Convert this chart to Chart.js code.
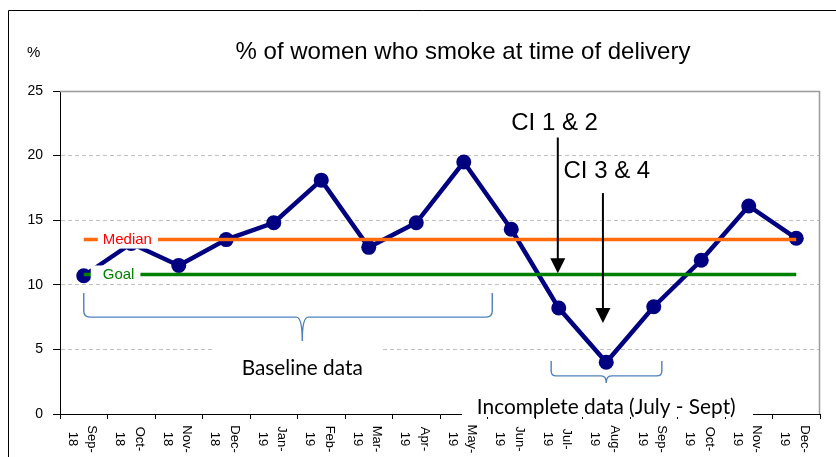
<!DOCTYPE html>
<html><head><meta charset="utf-8">
<script src="https://cdn.jsdelivr.net/npm/chart.js@4"></script>
<style>html,body{margin:0;padding:0;background:#fff}canvas{display:block}</style>
</head><body>
<canvas id="c" width="836" height="457"></canvas>
<script>
const categories = ['Sep-18','Oct-18','Nov-18','Dec-18','Jan-19','Feb-19','Mar-19','Apr-19','May-19','Jun-19','Jul-19','Aug-19','Sep-19','Oct-19','Nov-19','Dec-19'];
const smokingPct = [10.7, 13.2, 11.5, 13.5, 14.8, 18.1, 12.9, 14.8, 19.5, 14.3, 8.2, 4.0, 8.3, 11.9, 16.1, 13.6];
const medianValues = [13.5, 13.5, 13.5, 13.5, 13.5, 13.5, 13.5, 13.5, 13.5, 13.5, 13.5, 13.5, 13.5, 13.5, 13.5, 13.5];
const goalValues = [10.8, 10.8, 10.8, 10.8, 10.8, 10.8, 10.8, 10.8, 10.8, 10.8, 10.8, 10.8, 10.8, 10.8, 10.8, 10.8];
const yTicks = [0, 5, 10, 15, 20, 25];
const titleText = '% of women who smoke at time of delivery';
const yUnit = '%';
const medianLabel = 'Median';
const goalLabel = 'Goal';
const ci12Text = 'CI 1 & 2';
const ci34Text = 'CI 3 & 4';
const baselineText = 'Baseline data';
const incompleteText = 'Incomplete data (July - Sept)';

const SANS = '"Liberation Sans", Arial, sans-serif';
const CAL = 'Lato, "Open Sans", sans-serif';

function fitFont(ctx, text, family, targetW, base) {
  ctx.font = base + 'px ' + family;
  const w = ctx.measureText(text).width;
  const size = base * targetW / w;
  return size.toFixed(2) + 'px ' + family;
}

function brace(ctx, x1, x2, xm, yTop, yMid, yTip, r) {
  ctx.beginPath();
  ctx.moveTo(x1, yTop);
  ctx.lineTo(x1, yMid - r);
  ctx.quadraticCurveTo(x1, yMid, x1 + r, yMid);
  ctx.lineTo(xm - r, yMid);
  ctx.quadraticCurveTo(xm, yMid, xm, yTip);
  ctx.moveTo(xm, yTip);
  ctx.quadraticCurveTo(xm, yMid, xm + r, yMid);
  ctx.lineTo(x2 - r, yMid);
  ctx.quadraticCurveTo(x2, yMid, x2, yMid - r);
  ctx.lineTo(x2, yTop);
  ctx.stroke();
}

function arrow(ctx, x, y1, y2) {
  ctx.beginPath();
  ctx.moveTo(x, y1);
  ctx.lineTo(x, y2 - 14);
  ctx.stroke();
  ctx.beginPath();
  ctx.moveTo(x - 7.5, y2 - 15);
  ctx.lineTo(x + 7.5, y2 - 15);
  ctx.lineTo(x, y2);
  ctx.closePath();
  ctx.fill();
}

const decor = {
  id: 'decor',
  beforeDraw(chart) {
    const {ctx, width, height} = chart;
    ctx.save();
    ctx.fillStyle = '#fff';
    ctx.fillRect(0, 0, width, height);
    ctx.strokeStyle = '#000';
    ctx.lineWidth = 1;
    ctx.beginPath();
    ctx.moveTo(8.5, height);
    ctx.lineTo(8.5, 10.5);
    ctx.lineTo(width, 10.5);
    ctx.stroke();
    ctx.fillStyle = '#000';
    ctx.textBaseline = 'alphabetic';
    ctx.textAlign = 'center';
    ctx.font = '24px ' + SANS;
    ctx.fillText(titleText, 463, 59);
    ctx.textAlign = 'left';
    ctx.font = '15px ' + SANS;
    ctx.fillText(yUnit, 27, 57);
    ctx.restore();
  },
  beforeDatasetsDraw(chart) {
    const {ctx, chartArea: a} = chart;
    ctx.save();
    ctx.strokeStyle = '#9a9a9a';
    ctx.lineWidth = 1.5;
    ctx.beginPath();
    ctx.moveTo(a.left, a.top + 0.5);
    ctx.lineTo(a.right - 0.5, a.top + 0.5);
    ctx.lineTo(a.right - 0.5, a.bottom);
    ctx.stroke();
    ctx.restore();
  },
  afterDatasetsDraw(chart) {
    const {ctx} = chart;
    const xs = chart.scales.x, ys = chart.scales.y;
    ctx.save();
    ctx.font = '15px ' + SANS;
    ctx.textBaseline = 'middle';
    ctx.textAlign = 'left';
    const lx = xs.getPixelForValue(0.4);
    const my = ys.getPixelForValue(medianValues[1]);
    const gy = ys.getPixelForValue(goalValues[1]);
    const mw = ctx.measureText(medianLabel).width;
    const gw = ctx.measureText(goalLabel).width;
    ctx.fillStyle = '#fff';
    ctx.fillRect(lx - 5, my - 9, mw + 11, 18);
    ctx.fillRect(lx - 12, gy - 9, gw + 18, 18);
    ctx.fillStyle = '#ff0000';
    ctx.fillText(medianLabel, lx, my + 0.5);
    ctx.fillStyle = '#008000';
    ctx.fillText(goalLabel, lx, gy + 0.5);
    ctx.restore();
  },
  afterDraw(chart) {
    const {ctx} = chart;
    const xs = chart.scales.x, ys = chart.scales.y;
    const X = v => xs.getPixelForValue(v);
    const Y = v => ys.getPixelForValue(v);
    ctx.save();
    // x tick labels, rotated clockwise, two lines
    ctx.fillStyle = '#000';
    ctx.font = '13px ' + SANS;
    ctx.textAlign = 'center';
    ctx.textBaseline = 'middle';
    categories.forEach((c, i) => {
      const parts = c.split('-');
      const x = X(i) - 1.5;
      ctx.save();
      ctx.translate(x, 439);
      ctx.rotate(Math.PI / 2);
      ctx.fillText(parts[0] + '-', 0, -9.75);
      ctx.fillText(parts[1], 0, 9.75);
      ctx.restore();
    });
    // arrows + CI labels
    ctx.fillStyle = '#000';
    ctx.strokeStyle = '#000';
    ctx.lineWidth = 2;
    arrow(ctx, X(9.98), Y(21.4), Y(10.9));
    arrow(ctx, X(10.93), Y(17.1), Y(7.05));
    ctx.font = '24px ' + SANS;
    ctx.textAlign = 'left';
    ctx.textBaseline = 'alphabetic';
    ctx.fillText(ci12Text, X(9.0), Y(21.95));
    ctx.fillText(ci34Text, X(10.1), Y(18.3));
    // braces
    ctx.strokeStyle = '#4f81bd';
    ctx.lineWidth = 1.4;
    brace(ctx, X(0.0), X(8.6), X(4.6), Y(9.37), Y(7.5), Y(5.65), 6);
    brace(ctx, X(9.84), X(12.17), X(11.0), Y(4.1), Y(2.95), Y(2.4), 5);
    // text boxes
    ctx.fillStyle = '#fff';
    ctx.fillRect(215, Y(5.2), 165, 38);
    ctx.fillRect(462, 395, 291, 22);
    ctx.fillStyle = '#000';
    ctx.textAlign = 'center';
    ctx.textBaseline = 'middle';
    ctx.font = fitFont(ctx, baselineText, CAL, 121, 18);
    ctx.fillText(baselineText, X(4.6), 368);
    ctx.font = fitFont(ctx, incompleteText, CAL, 259, 18);
    ctx.fillText(incompleteText, X(11.0), 407);
    ctx.restore();
  }
};

new Chart(document.getElementById('c'), {
  type: 'line',
  data: {
    labels: categories,
    datasets: [
      {
        label: '% smoking at delivery',
        data: smokingPct,
        borderColor: '#000080',
        backgroundColor: '#000080',
        borderWidth: 4.5,
        pointRadius: 7.5,
        pointBackgroundColor: '#000080',
        pointBorderColor: '#000080',
        pointBorderWidth: 0,
        tension: 0,
        order: 3
      },
      {
        label: 'Median',
        data: medianValues,
        borderColor: '#ff6a0a',
        borderWidth: 3.5,
        pointRadius: 0,
        tension: 0,
        order: 1
      },
      {
        label: 'Goal',
        data: goalValues,
        borderColor: '#008000',
        borderWidth: 3.5,
        pointRadius: 0,
        tension: 0,
        order: 1
      }
    ]
  },
  options: {
    responsive: false,
    devicePixelRatio: 1,
    animation: false,
    events: [],
    layout: { padding: { top: 91, right: 16, left: 0, bottom: 0 } },
    plugins: { legend: { display: false }, tooltip: { enabled: false }, title: { display: false } },
    scales: {
      x: {
        offset: true,
        grid: { offset: true, drawOnChartArea: false, drawTicks: true, tickLength: 5, tickColor: '#000', color: '#000' },
        border: { display: true, color: '#000', width: 1 },
        ticks: { display: false },
        afterFit(s) { s.height = 43; }
      },
      y: {
        min: 0, max: 25,
        afterBuildTicks(s) { s.ticks = yTicks.map(v => ({ value: v })); },
        grid: { color: '#c0c0c0', lineWidth: 1, drawTicks: true, tickLength: 7, tickColor: '#000', borderDash: [4, 3] },
        border: { display: true, color: '#000', width: 1, dash: [4, 3] },
        ticks: { color: '#000', font: { family: SANS, size: 14 }, padding: 10 },
        afterFit(s) { s.width = 60; }
      }
    }
  },
  plugins: [decor]
});
</script>
</body></html>
